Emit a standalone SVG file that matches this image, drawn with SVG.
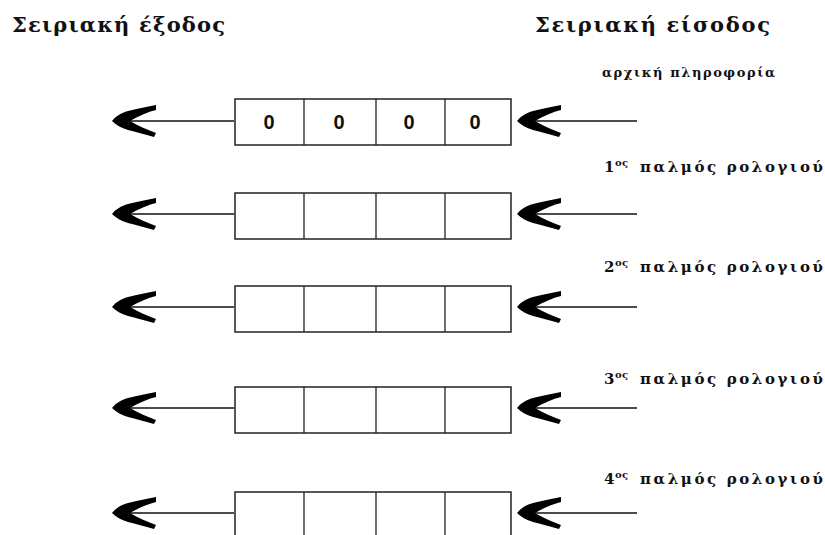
<svg xmlns="http://www.w3.org/2000/svg" width="825" height="535" viewBox="0 0 825 535">
<style>
.t{font-family:"DejaVu Serif","Liberation Serif",serif;font-weight:bold;fill:#111}
.title{font-size:21px}
.lab{font-size:15px}
.lab0{font-size:13px}
.sup{font-size:10px}
.z{font-family:"Liberation Sans",Arial,sans-serif;font-weight:bold;font-size:20px;fill:#111;text-anchor:middle}
.box{fill:#fff;stroke:#222;stroke-width:1.5}
.cell{stroke:#222;stroke-width:1.3}
.ln{stroke:#111;stroke-width:1.4;fill:none}
</style>
<defs>
<path id="ah" d="M0 0 C4 -5 9 -8 16 -10 C24 -12 34 -14 44 -16 L44 -11 C36 -9 26 -5 18 0 C26 5 36 9 44 12 L42 16 C32 13 24 11 16 9 C9 7 4 4 0 0 Z" fill="#000"/>
<g id="reg">
<rect class="box" x="235" y="0" width="276" height="46"/>
<line class="cell" x1="304" y1="0" x2="304" y2="46"/>
<line class="cell" x1="376" y1="0" x2="376" y2="46"/>
<line class="cell" x1="445" y1="0" x2="445" y2="46"/>
</g>
</defs>
<rect width="825" height="535" fill="#fff"/>
<g id="titles">
<text class="t title" x="12" y="32" textLength="213" lengthAdjust="spacing">Σειριακή έξοδος</text>
<text class="t title" x="535" y="32" textLength="235" lengthAdjust="spacing">Σειριακή είσοδος</text>
</g>
<g id="labels">
<text class="t lab0" x="602" y="77" textLength="173" lengthAdjust="spacing">αρχική πληροφορία</text>
<g id="lab1"><text class="t lab" x="604" y="172">1</text><text class="t sup" x="615" y="166" textLength="13" lengthAdjust="spacing">ος</text><text class="t lab" x="640" y="172" textLength="183" lengthAdjust="spacing">παλμός ρολογιού</text></g>
<g id="lab2"><text class="t lab" x="604" y="272">2</text><text class="t sup" x="615" y="266" textLength="13" lengthAdjust="spacing">ος</text><text class="t lab" x="640" y="272" textLength="183" lengthAdjust="spacing">παλμός ρολογιού</text></g>
<g id="lab3"><text class="t lab" x="604" y="384">3</text><text class="t sup" x="615" y="378" textLength="13" lengthAdjust="spacing">ος</text><text class="t lab" x="640" y="384" textLength="183" lengthAdjust="spacing">παλμός ρολογιού</text></g>
<g id="lab4"><text class="t lab" x="604" y="484">4</text><text class="t sup" x="615" y="478" textLength="13" lengthAdjust="spacing">ος</text><text class="t lab" x="640" y="484" textLength="183" lengthAdjust="spacing">παλμός ρολογιού</text></g>
</g>
<g id="reg0"><use href="#reg" y="99"/>
<text class="z" x="269" y="129">0</text><text class="z" x="339" y="129">0</text><text class="z" x="409" y="129">0</text><text class="z" x="475" y="129">0</text>
</g>
<g id="reg1"><use href="#reg" y="193"/></g>
<g id="reg2"><use href="#reg" y="286"/></g>
<g id="reg3"><use href="#reg" y="387"/></g>
<g id="reg4"><use href="#reg" y="492"/></g>
<g id="connectors">
<line class="ln" x1="113" y1="121" x2="234" y2="121"/><use href="#ah" x="112" y="121"/>
<line class="ln" x1="518" y1="121" x2="637" y2="121"/><use href="#ah" x="517" y="121"/>
<line class="ln" x1="113" y1="214" x2="234" y2="214"/><use href="#ah" x="112" y="214"/>
<line class="ln" x1="518" y1="214" x2="637" y2="214"/><use href="#ah" x="517" y="214"/>
<line class="ln" x1="113" y1="307" x2="234" y2="307"/><use href="#ah" x="112" y="307"/>
<line class="ln" x1="518" y1="307" x2="637" y2="307"/><use href="#ah" x="517" y="307"/>
<line class="ln" x1="113" y1="408" x2="234" y2="408"/><use href="#ah" x="112" y="408"/>
<line class="ln" x1="518" y1="408" x2="637" y2="408"/><use href="#ah" x="517" y="408"/>
<line class="ln" x1="113" y1="513" x2="234" y2="513"/><use href="#ah" x="112" y="513"/>
<line class="ln" x1="518" y1="513" x2="637" y2="513"/><use href="#ah" x="517" y="513"/>
</g>
</svg>
